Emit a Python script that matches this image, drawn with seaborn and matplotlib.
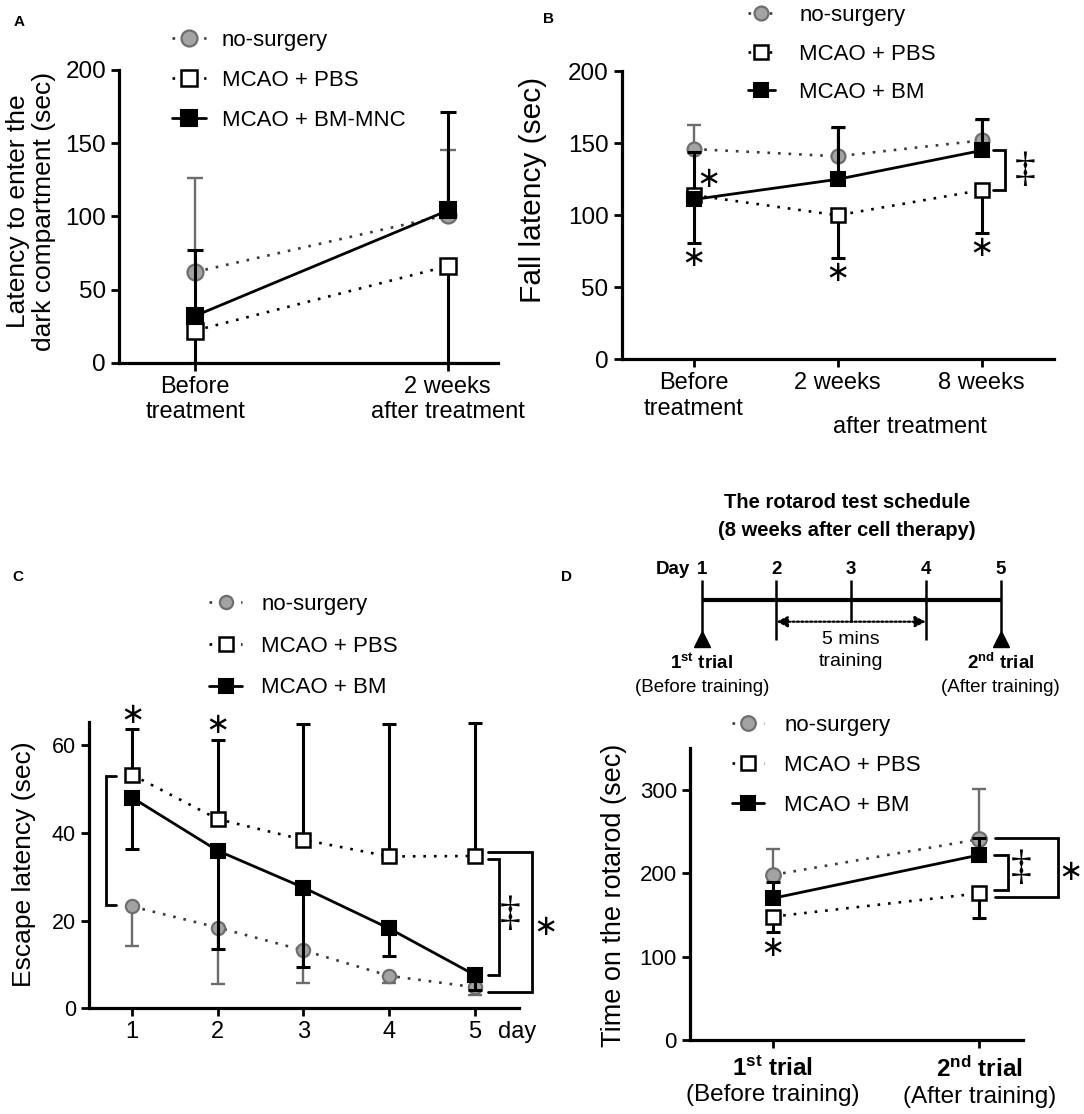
import matplotlib
matplotlib.use("Agg")
import matplotlib.pyplot as plt
from matplotlib.lines import Line2D
import seaborn as sns

sns.set_theme(style="ticks")
plt.rcParams['font.family'] = ['Liberation Sans', 'DejaVu Sans']
plt.rcParams['mathtext.fontset'] = 'custom'
plt.rcParams['mathtext.rm'] = 'Liberation Sans'
plt.rcParams['mathtext.bf'] = 'Liberation Sans:bold'
plt.rcParams['mathtext.it'] = 'Liberation Sans:italic'
for k in ['text.color', 'axes.labelcolor', 'xtick.color', 'ytick.color', 'axes.edgecolor']:
    plt.rcParams[k] = 'black'

# ------------------------------------------------------------------ data
A_labels = ["no-surgery", "MCAO + PBS", "MCAO + BM-MNC"]
labels = ["no-surgery", "MCAO + PBS", "MCAO + BM"]

A_ticks = ["Before\ntreatment", "2 weeks\nafter treatment"]
A_nosurg = [62, 101]
A_nosurg_lo = [0, 0]
A_nosurg_hi = [64, 44]
A_pbs = [22, 66]
A_pbs_lo = [22, 66]
A_pbs_hi = [0, 0]
A_bm = [32, 104]
A_bm_lo = [0, 0]
A_bm_hi = [45, 67]

B_ticks = ["Before\ntreatment", "2 weeks", "8 weeks"]
B_nosurg = [146, 141, 152]
B_nosurg_lo = [0, 0, 0]
B_nosurg_hi = [16.5, 19.5, 14]
B_pbs = [114, 100, 117.5]
B_pbs_lo = [33, 29.5, 29.5]
B_pbs_hi = [0, 0, 0]
B_bm = [111, 125, 145]
B_bm_lo = [0, 0, 0]
B_bm_hi = [33, 36, 22]

C_days = [1, 2, 3, 4, 5]
C_nosurg = [23.2, 18.4, 13.2, 7.4, 4.8]
C_nosurg_lo = [9.1, 12.9, 7.4, 1.6, 1.8]
C_nosurg_hi = [0, 0, 0, 0, 0]
C_pbs = [53.2, 43.1, 38.4, 34.6, 34.7]
C_pbs_lo = [0, 0, 0, 0, 0]
C_pbs_hi = [10.5, 18.0, 26.3, 30.1, 30.2]
C_bm = [48.0, 35.9, 27.5, 18.2, 7.6]
C_bm_lo = [11.8, 22.4, 18.0, 6.3, 3.5]
C_bm_hi = [0, 0, 0, 0, 0]

D_ticks = ["$\\mathbf{1^{st}\\ trial}$\n(Before training)",
           "$\\mathbf{2^{nd}\\ trial}$\n(After training)"]
D_nosurg = [198, 241]
D_nosurg_lo = [0, 0]
D_nosurg_hi = [31, 60]
D_pbs = [148, 176]
D_pbs_lo = [18, 30]
D_pbs_hi = [0, 0]
D_bm = [170, 222]
D_bm_lo = [0, 0]
D_bm_hi = [19, 20]

schedule_days = [1, 2, 3, 4, 5]

# ------------------------------------------------------------------ styles
W, H = 1084, 1114
fig = plt.figure(figsize=(W / 100, H / 100), dpi=100)


def fr(l, t, r, b):
    return [l / W, 1 - b / H, (r - l) / W, (b - t) / H]


DOT = (0, (1, 3))
GRAY_FACE, GRAY_EDGE, GRAY_BAR = '#a3a3a3', '#6e6e6e', '#6c6c6c'


def style(kind, ms):
    if kind == 'ns':
        return dict(marker='o', markersize=ms, markerfacecolor=GRAY_FACE,
                    markeredgecolor=GRAY_EDGE, markeredgewidth=1.6,
                    color='#3a3a3a', linestyle=DOT, linewidth=1.9)
    if kind == 'pbs':
        return dict(marker='s', markersize=ms, markerfacecolor='white',
                    markeredgecolor='black', markeredgewidth=1.8,
                    color='black', linestyle=DOT, linewidth=1.9)
    return dict(marker='s', markersize=ms, markerfacecolor='black',
                markeredgecolor='black', markeredgewidth=1.5,
                color='black', linestyle='-', linewidth=2.0)


def panel(ax, x, groups, ms_c, ms_s, cap):
    zs = {'ns': (2, 3), 'pbs': (4, 5), 'bm': (4, 6)}
    for kind, y, lo, hi in groups:
        ez, lz = zs[kind]
        ec = GRAY_BAR if kind == 'ns' else 'black'
        ew = 1.7 if kind == 'ns' else 2.2
        ax.errorbar(x, y, yerr=[lo, hi], fmt='none', ecolor=ec,
                    elinewidth=ew, capsize=cap, capthick=ew, zorder=ez)
        st = style(kind, ms_c if kind == 'ns' else ms_s)
        sns.lineplot(x=x, y=y, ax=ax, errorbar=None, legend=False,
                     sort=False, zorder=lz, **st)


def legend(ax, labs, ms_c, ms_s, left, top, hl, pad, ls, fs=16):
    hs = [Line2D([0], [0], **style(k, ms_c if k == 'ns' else ms_s))
          for k in ['ns', 'pbs', 'bm']]
    ax.legend(hs, labs, loc='upper left', bbox_to_anchor=(left / W, 1 - top / H),
              bbox_transform=fig.transFigure, frameon=False, fontsize=fs,
              handlelength=hl, handletextpad=pad, labelspacing=ls,
              borderpad=0, borderaxespad=0, numpoints=1)


def axis_style(ax, xfs, yfs):
    sns.despine(ax=ax)
    for s in ['left', 'bottom']:
        ax.spines[s].set_linewidth(2.3)
    ax.tick_params(axis='both', width=2.0, length=6, direction='out')
    ax.tick_params(axis='x', labelsize=xfs)
    ax.tick_params(axis='y', labelsize=yfs)


def bracket(ax, x0, x1, ytop, ybot):
    ax.plot([x0, x1, x1, x0], [ytop, ytop, ybot, ybot], color='black',
            lw=2.0, clip_on=False, solid_joinstyle='miter')


def star(ax, x, y, fs=21):
    ax.text(x, y, '\u2217', ha='center', va='center', fontsize=fs,
            family='DejaVu Sans', clip_on=False)


def dagger(ax, x, y, fs=30):
    ax.text(x, y, '\u2021', ha='center', va='center', fontsize=fs,
            family=['Liberation Serif', 'DejaVu Sans'], clip_on=False)


# ------------------------------------------------------------------ panel A
axA = fig.add_axes(fr(119.3, 70, 498.3, 362.7))
xA = list(range(len(A_ticks)))
panel(axA, xA, [('ns', A_nosurg, A_nosurg_lo, A_nosurg_hi),
                ('pbs', A_pbs, A_pbs_lo, A_pbs_hi),
                ('bm', A_bm, A_bm_lo, A_bm_hi)], 11.5, 12, 6)
axA.set_xlim(-0.3, 1.2)
axA.set_ylim(0, 200)
axA.set_yticks([0, 50, 100, 150, 200])
axA.set_xticks(xA)
axA.set_xticklabels(A_ticks)
axis_style(axA, 17, 17.5)
axA.set_ylabel("Latency to enter the\ndark compartment (sec)", fontsize=19,
               linespacing=1.12)
axA.yaxis.set_label_coords(-0.167, 0.516)
legend(axA, A_labels, 11.5, 12, 172, 30, 1.55, 0.7, 0.86)

# ------------------------------------------------------------------ panel B
axB = fig.add_axes(fr(621.7, 71.3, 1053.5, 359.3))
xB = list(range(len(B_ticks)))
panel(axB, xB, [('ns', B_nosurg, B_nosurg_lo, B_nosurg_hi),
                ('pbs', B_pbs, B_pbs_lo, B_pbs_hi),
                ('bm', B_bm, B_bm_lo, B_bm_hi)], 10, 10, 5.3)
axB.set_xlim(-0.5, 2.5)
axB.set_ylim(0, 200)
axB.set_yticks([0, 50, 100, 150, 200])
axB.set_xticks(xB)
axB.set_xticklabels(B_ticks)
axis_style(axB, 17, 17.5)
axB.set_ylabel("Fall latency (sec)", fontsize=21.5)
axB.yaxis.set_label_coords(-0.173, 0.588)
axB.text(1.5, -0.235, "after treatment", transform=axB.get_xaxis_transform(),
         ha='center', va='center', fontsize=17)
legend(axB, labels, 10, 10, 748, 5, 1.2, 1.1, 0.79)
star(axB, 0.1, 125)
star(axB, 0.0, 70)
star(axB, 1.0, 60)
star(axB, 2.0, 77)
bracket(axB, 2.08, 2.16, B_bm[2], B_pbs[2])
dagger(axB, 2.30, (B_bm[2] + B_pbs[2]) / 2)

# ------------------------------------------------------------------ panel C
axC = fig.add_axes(fr(89.3, 721.7, 519.3, 1008.3))
panel(axC, C_days, [('ns', C_nosurg, C_nosurg_lo, C_nosurg_hi),
                    ('pbs', C_pbs, C_pbs_lo, C_pbs_hi),
                    ('bm', C_bm, C_bm_lo, C_bm_hi)], 9.5, 9.5, 5)
axC.set_xlim(0.5, 5.52)
axC.set_ylim(0, 65.3)
axC.set_yticks([0, 20, 40, 60])
axC.set_xticks(C_days)
axis_style(axC, 17, 15.5)
axC.set_ylabel("Escape latency (sec)", fontsize=19)
axC.yaxis.set_label_coords(-0.125, 0.502)
axC.text(5.5, -0.104, "day", transform=axC.get_xaxis_transform(),
         ha='center', va='baseline', fontsize=17)
legend(axC, labels, 9.5, 9.5, 209, 594, 1.5, 0.85, 0.93)
star(axC, 1, 66.8)
star(axC, 2, 64.5)
bracket(axC, 0.81, 0.69, 53.0, 23.5)
bracket(axC, 5.15, 5.28, 34.0, C_bm[4])
bracket(axC, 5.16, 5.67, 35.7, 3.6)
dagger(axC, 5.41, 21.3)
star(axC, 5.83, 18.6)

# ------------------------------------------------------------------ panel D
axD = fig.add_axes(fr(690, 748.3, 1022.7, 1040))
xD = list(range(len(D_ticks)))
panel(axD, xD, [('ns', D_nosurg, D_nosurg_lo, D_nosurg_hi),
                ('pbs', D_pbs, D_pbs_lo, D_pbs_hi),
                ('bm', D_bm, D_bm_lo, D_bm_hi)], 10.5, 10.5, 5)
axD.set_xlim(-0.4, 1.21)
axD.set_ylim(0, 350)
axD.set_yticks([0, 100, 200, 300])
axD.set_xticks(xD)
axD.set_xticklabels(D_ticks)
axis_style(axD, 17.5, 16)
axD.tick_params(axis='x', pad=6)
axD.set_ylabel("Time on the rotarod (sec)", fontsize=19.5)
axD.yaxis.set_label_coords(-0.19, 0.497)
legend(axD, labels, 10.5, 10.5, 731.7, 715, 1.45, 0.92, 0.86)
star(axD, 0, 110)
bracket(axD, 1.071, 1.14, D_bm[1], 180)
bracket(axD, 1.075, 1.38, 242, 172)
dagger(axD, 1.2, 206)
star(axD, 1.44, 202)

# ------------------------------------------------------------------ schedule
axS = fig.add_axes(fr(560, 470, 1084, 700))
axS.set_xlim(-0.8957, 6.1144)
axS.set_ylim(700, 470)
axS.axis('off')
axS.text(2.94, 503, "The rotarod test schedule", ha='center', va='center',
         fontsize=14.5, weight='bold')
axS.text(2.94, 530, "(8 weeks after cell therapy)", ha='center', va='center',
         fontsize=14.5, weight='bold')
axS.hlines(600, schedule_days[0], schedule_days[-1], color='black', lw=3)
tick_bottoms = [632, 640, 621.7, 640, 632]
axS.vlines(schedule_days, 580, tick_bottoms, color='black', lw=1.8)
for d in schedule_days:
    axS.text(d, 570, str(d), ha='center', va='center', fontsize=13.5,
             weight='bold')
axS.text(schedule_days[0] - 0.16, 570, "Day", ha='right', va='center',
         fontsize=13.5, weight='bold')
axS.plot([schedule_days[0], schedule_days[-1]], [639, 639], ls='none',
         marker='^', ms=12, color='black')
axS.annotate('', xy=(schedule_days[1], 621.7), xytext=(schedule_days[3], 621.7),
             arrowprops=dict(arrowstyle='<|-|>', linestyle=(0, (1, 1)), lw=1.6,
                             color='black', mutation_scale=16, shrinkA=0,
                             shrinkB=0))
axS.text(schedule_days[2], 639, "5 mins", ha='center', va='center', fontsize=14)
axS.text(schedule_days[2], 661.7, "training", ha='center', va='center',
         fontsize=14)
axS.text(schedule_days[0], 663, "1$^{\\mathbf{st}}$ trial", ha='center',
         va='center', fontsize=13.5, weight='bold')
axS.text(schedule_days[0], 687, "(Before training)", ha='center', va='center',
         fontsize=13.5)
axS.text(schedule_days[-1], 663, "2$^{\\mathbf{nd}}$ trial", ha='center',
         va='center', fontsize=13.5, weight='bold')
axS.text(schedule_days[-1], 687, "(After training)", ha='center', va='center',
         fontsize=13.5)

# ------------------------------------------------------------------ panel letters
for lab, px, py in [('A', 19, 22), ('B', 548, 19), ('C', 18, 577), ('D', 566, 577)]:
    fig.text(px / W, 1 - py / H, lab, ha='center', va='center', fontsize=11,
             weight='bold')

fig.savefig("out.png", dpi=100)
